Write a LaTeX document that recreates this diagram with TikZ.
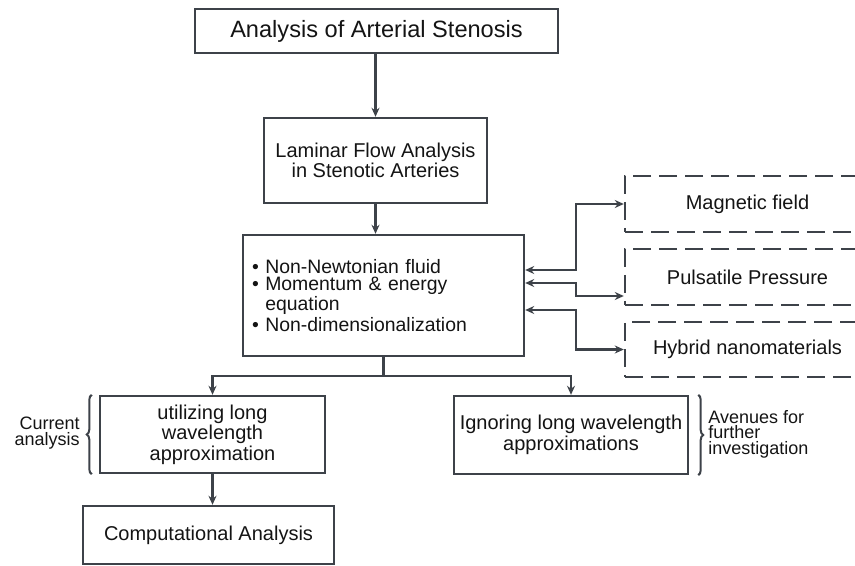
\documentclass[tikz,border=0pt]{standalone}
\usepackage{fontspec}
\setmainfont{Liberation Sans}
\usetikzlibrary{arrows.meta,calc,decorations.pathreplacing}
\definecolor{linegray}{HTML}{3D4249}
\definecolor{textblack}{HTML}{141414}

\begin{document}
\begin{tikzpicture}[x=0.5pt,y=-0.5pt,
  box/.style={draw=linegray,line width=1.2pt,rectangle,inner sep=0pt,align=center,text=textblack,font=\fontsize{10}{9}\selectfont},
  dashbox/.style={box,dash pattern=on 9pt off 4pt},
  link/.style={draw=linegray,line width=1.2pt,-{Stealth[length=4.5pt,width=4pt]}},
  twoway/.style={link,{Stealth[length=4.5pt,width=4pt]}-{Stealth[length=4.5pt,width=4pt]}},
  bracket/.style={draw=linegray,line width=1pt,decorate,decoration={brace,amplitude=2.5pt}},
  side/.style={inner sep=0pt,text=textblack,font=\fontsize{9}{7.7}\selectfont}]
  \useasboundingbox (0,0) rectangle (855,566);
  \clip (0,0) rectangle (855,566);

  \node[box,minimum width=181.5pt,minimum height=22pt,font=\fontsize{11.8}{14}\selectfont] (stenosis) at (376.5,31) {Analysis of Arterial Stenosis};
  \node[box,minimum width=111.5pt,minimum height=42.5pt] (laminar) at (375.5,160.5) {Laminar Flow Analysis\\in Stenotic Arteries};
  \node[box,minimum width=140.5pt,minimum height=60.5pt,align=left,text width=131.5pt,inner xsep=4.5pt,font=\fontsize{9.7}{8.5}\selectfont] (model) at (383.5,295.5)
    {\textbullet\ Non-Newtonian fluid\\\textbullet\ Momentum \& energy\\\hphantom{\textbullet\ }equation\\\textbullet\ Non-dimensionalization};
  \node[dashbox,minimum width=122.5pt,minimum height=28pt] (magnetic) at (747.5,204) {Magnetic field};
  \node[dashbox,minimum width=122.5pt,minimum height=28pt] (pulsatile) at (747.5,277) {Pulsatile Pressure};
  \node[dashbox,minimum width=122.5pt,minimum height=27.5pt] (hybrid) at (747.5,349.5) {Hybrid nanomaterials};
  \node[box,minimum width=112.5pt,minimum height=38.5pt] (current) at (212.5,434.5) {utilizing long\\wavelength\\approximation};
  \node[box,minimum width=117pt,minimum height=39pt,font=\fontsize{10}{8.5}\selectfont] (further) at (571,435) {Ignoring long wavelength\\approximations};
  \node[box,minimum width=125.5pt,minimum height=29pt] (compute) at (208.5,535) {Computational Analysis};

  \draw[link] (stenosis.south -| laminar.north) -- (laminar.north);
  \draw[link] (laminar.south) -- (laminar.south |- model.north);
  \draw[draw=linegray,line width=1.2pt] (model.south) -- ++(0,19) coordinate (fork);
  \draw[link] (fork) -| (current.north);
  \draw[link] (fork) -| (further.north);
  \draw[link] (current.south) -- (current.south |- compute.north);

  \draw[twoway] ($(model.east)+(0,-25.5)$) -- ++(51,0) |- (magnetic.west);
  \draw[twoway] ($(model.east)+(0,-12.5)$) -- ++(51,0) |- ($(pulsatile.west)+(0,19)$);
  \draw[twoway] ($(model.east)+(0,14.5)$) -- ++(51,0) |- (hybrid.west);

  \draw[bracket] ($(current.south west)+(-7,0)$) -- ($(current.north west)+(-7,0)$);
  \draw[bracket] ($(further.north east)+(9,0)$) -- ($(further.south east)+(9,0)$);
  \node[side,anchor=east,align=right] (currentnote) at (80,433) {Current\\analysis};
  \node[side,anchor=west,align=left] (furthernote) at (708,434) {Avenues for\\further\\investigation};
\end{tikzpicture}
\end{document}
